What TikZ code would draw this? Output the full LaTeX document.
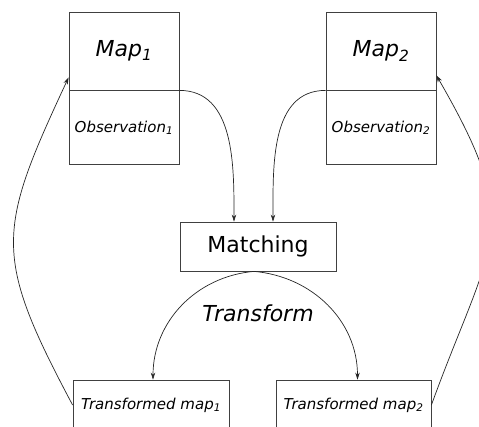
\documentclass[tikz,border=0pt]{standalone}
\usepackage{fontspec}
\setmainfont{DejaVu Sans}
\usetikzlibrary{arrows.meta}

\begin{document}
\begin{tikzpicture}[x=1pt,y=1pt,
  box/.style={draw=black!75,line width=0.8pt,minimum width=110pt,inner sep=0pt},
  big/.style={font=\fontsize{22}{26}\selectfont\itshape},
  small/.style={font=\fontsize{15}{18}\selectfont\itshape},
  link/.style={draw=black!85,line width=0.7pt,-{Stealth[length=7pt,width=4.5pt]}}]
\useasboundingbox (0,0) rectangle (479,426);
\node[box,big,minimum height=78pt] (map1) at (124,375) {Map\textsubscript{1}};
\node[box,small,minimum height=74pt,anchor=north] (obs1) at (map1.south) {Observation\textsubscript{1}};
\node[box,big,minimum height=78pt] (map2) at (381,375) {Map\textsubscript{2}};
\node[box,small,minimum height=74pt,anchor=north] (obs2) at (map2.south) {Observation\textsubscript{2}};
\node[box,minimum width=156pt,minimum height=49pt,font=\fontsize{22}{26}\selectfont] (matching) at (258,179.5) {Matching};
\node[big] (transform) at (258,113) {Transform};
\node[box,small,minimum width=156pt,minimum height=50pt] (tmap1) at (151,21) {Transformed map\textsubscript{1}};
\node[box,small,minimum width=155pt,minimum height=50pt] (tmap2) at (353.5,21) {Transformed map\textsubscript{2}};
\draw[link] (map1.south east) to[out=0,in=90] ([xshift=-24pt]matching.north);
\draw[link] (map2.south west) to[out=180,in=90] ([xshift=15pt]matching.north);
\draw[link] ([xshift=-4pt]matching.south) to[out=185,in=90] ([xshift=2pt]tmap1.north);
\draw[link] ([xshift=-4pt]matching.south) to[out=-5,in=90] ([xshift=4pt]tmap2.north);
\draw[link] (tmap1.west) to[out=118,in=-115,distance=170pt] ([yshift=13pt]map1.south west);
\draw[link] (tmap2.east) to[out=70,in=-60,distance=178pt] ([yshift=15pt]map2.south east);
\end{tikzpicture}
\end{document}
